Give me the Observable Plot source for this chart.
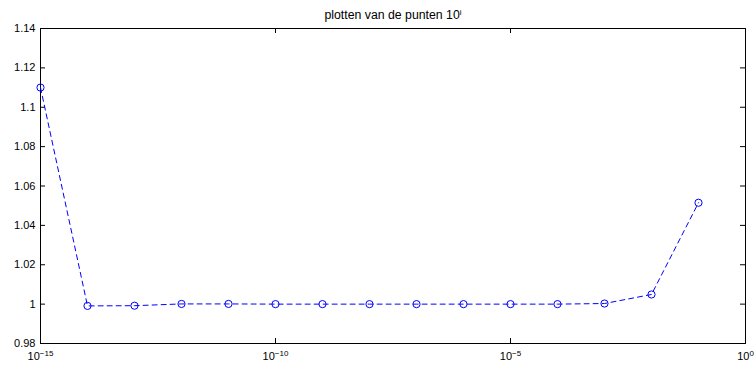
<!DOCTYPE html>
<html>
<head>
<meta charset="utf-8">
<script src="https://cdn.jsdelivr.net/npm/d3@7"></script>
<script src="https://cdn.jsdelivr.net/npm/@observablehq/plot@0.6"></script>
<style>
  html, body { margin: 0; padding: 0; background: #fff; }
  #chart { width: 756px; height: 367px; }
</style>
</head>
<body>
<div id="chart"></div>
<script>
const titleText = "plotten van de punten 10";
const titleSup = "i";
const xValues = [1e-15, 1e-14, 1e-13, 1e-12, 1e-11, 1e-10, 1e-9, 1e-8, 1e-7, 1e-6, 1e-5, 1e-4, 1e-3, 1e-2, 1e-1];
const yValues = [1.110, 0.9991, 0.9992, 1.0001, 1.0001, 1.0000, 1.0000, 1.0000, 1.0000, 1.0000, 1.0000, 1.0000, 1.0003, 1.0049, 1.0515];
const xTicks = [1e-15, 1e-10, 1e-5, 1];
const xTickExponents = ["-15", "-10", "-5", "0"];
const yTicks = [0.98, 1.00, 1.02, 1.04, 1.06, 1.08, 1.10, 1.12, 1.14];

const data = xValues.map((x, i) => ({x, y: yValues[i]}));

const W = 756, H = 367;
const mL = 40, mR = 11, mT = 28, mB = 24;
const innerW = W - mL - mR, innerH = H - mT - mB;
const tickLen = 5;
const blue = "#0000ff";

const plot = Plot.plot({
  width: W,
  height: H,
  marginLeft: mL, marginRight: mR, marginTop: mT, marginBottom: mB,
  style: {fontFamily: "'Liberation Sans', Arial, Helvetica, sans-serif", fontSize: "11px", background: "#fff", color: "#000"},
  x: {type: "log", domain: [1e-15, 1]},
  y: {domain: [0.98, 1.14]},
  marks: [
    Plot.axisY({ticks: yTicks, tickSize: 0, tickPadding: 5, tickFormat: d => String(+d.toFixed(2)), label: null, fontSize: 11}),
    Plot.axisX({ticks: xTicks, tickSize: 0, tickPadding: 9, tickFormat: d => "10|" + xTickExponents[xTicks.indexOf(d)], label: null, fontSize: 11}),
    Plot.ruleY(yTicks, {y: d => d, insetRight: innerW - tickLen, stroke: "#000"}),
    Plot.ruleY(yTicks, {y: d => d, insetLeft: innerW - tickLen, stroke: "#000"}),
    Plot.ruleX(xTicks, {x: d => d, insetTop: innerH - tickLen, stroke: "#000"}),
    Plot.ruleX(xTicks, {x: d => d, insetBottom: innerH - tickLen, stroke: "#000"}),
    Plot.frame({stroke: "#000", strokeWidth: 1}),
    Plot.line(data, {x: "x", y: "y", stroke: blue, strokeWidth: 1, strokeDasharray: "5,4"}),
    Plot.dot(data, {x: "x", y: "y", r: 3.6, stroke: blue, strokeWidth: 1, fill: "none"}),
    Plot.text([titleText], {text: d => d, frameAnchor: "top", lineAnchor: "bottom", dy: -10, fontSize: 12.3, fill: "#000"})
  ]
});

document.getElementById("chart").appendChild(plot);

// superscripts for x tick labels
d3.select(plot).selectAll('g[aria-label="x-axis tick label"] text').each(function() {
  const t = d3.select(this);
  const s = t.text();
  if (s.indexOf("|") < 0) return;
  const [base, exp] = s.split("|");
  t.text(null);
  t.append("tspan").text(base);
  t.append("tspan").attr("dy", "-0.5em").attr("font-size", "8px").text(exp.replace("-", "\u2212"));
});

// superscript for title
d3.select(plot).selectAll("text").each(function() {
  const t = d3.select(this);
  if (t.text() !== titleText) return;
  t.text(null);
  t.append("tspan").text(titleText);
  t.append("tspan").attr("dy", "-0.5em").attr("font-size", "8px").text(titleSup);
});
</script>
</body>
</html>
